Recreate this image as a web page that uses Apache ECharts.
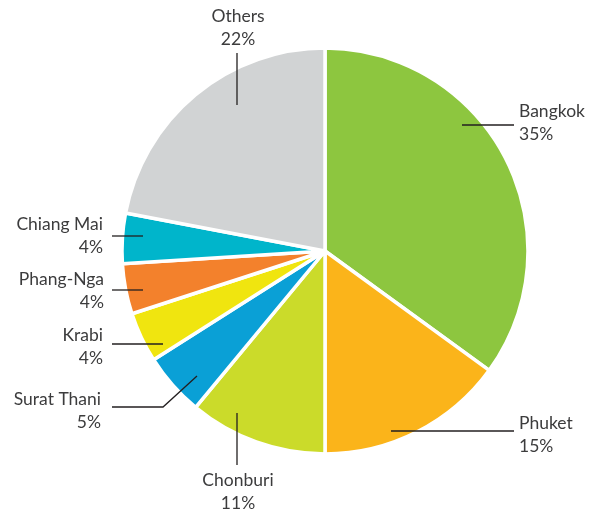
<!DOCTYPE html>
<html>
<head>
<meta charset="utf-8">
<script src="https://cdn.jsdelivr.net/npm/echarts@6/dist/echarts.min.js"></script>
<style>
  html, body { margin: 0; padding: 0; background: #ffffff; }
  #chart { width: 596px; height: 514px; }
</style>
</head>
<body>
<div id="chart"></div>
<script>
// Share of visitors by province (%), clockwise from 12 o'clock
const provinces = ['Bangkok', 'Phuket', 'Chonburi', 'Surat Thani', 'Krabi', 'Phang-Nga', 'Chiang Mai', 'Others'];
const shares = [35, 15, 11, 5, 4, 4, 4, 22];
const sliceColors = ['#8dc63f', '#fbb41a', '#cbdb2a', '#0aa0d6', '#f0e50f', '#f3812c', '#00b5cb', '#d1d3d4'];

// Where each label sits and how its leader line runs (pixel layout of the annotations)
const labelPlacement = {
  'Bangkok':     { x: 519, y: 123, align: 'left',   line: [[462, 125], [488, 125], [514, 125]] },
  'Phuket':      { x: 519, y: 435, align: 'left',   line: [[391, 431], [450, 431], [514, 431]] },
  'Chonburi':    { x: 238, y: 492, align: 'center', line: [[237, 413], [237, 440], [237, 465]] },
  'Surat Thani': { x: 101, y: 411, align: 'right',  line: [[197, 376], [163, 407], [112, 407]] },
  'Krabi':       { x: 103, y: 347, align: 'right',  line: [[163, 344], [140, 344], [112, 344]] },
  'Phang-Nga':   { x: 104, y: 291, align: 'right',  line: [[143, 290], [128, 290], [112, 290]] },
  'Chiang Mai':  { x: 103, y: 236, align: 'right',  line: [[143, 236], [128, 236], [112, 236]] },
  'Others':      { x: 238, y: 28,  align: 'center', line: [[237, 105], [237, 80], [237, 53]] }
};

const pieCenter = [325, 251];
const pieRadius = [0, 203];

const chart = echarts.init(document.getElementById('chart'), null, { renderer: 'canvas' });

chart.setOption({
  backgroundColor: '#ffffff',
  animation: false,
  series: [
    // Coloured slices
    {
      type: 'pie',
      z: 2,
      center: pieCenter,
      radius: pieRadius,
      startAngle: 90,
      clockwise: true,
      silent: true,
      data: provinces.map((name, i) => ({
        name: name,
        value: shares[i],
        itemStyle: { color: sliceColors[i] }
      })),
      itemStyle: { borderColor: '#ffffff', borderWidth: 3.5 },
      label: { show: false },
      labelLine: { show: false },
      emphasis: { disabled: true }
    },
    // Same slices, transparent, carrying the labels so leader lines sit on top
    {
      type: 'pie',
      z: 3,
      center: pieCenter,
      radius: pieRadius,
      startAngle: 90,
      clockwise: true,
      silent: true,
      avoidLabelOverlap: false,
      data: provinces.map((name, i) => ({ name: name, value: shares[i] })),
      itemStyle: { color: 'rgba(0,0,0,0)', borderWidth: 0 },
      label: {
        show: true,
        position: 'outside',
        formatter: '{b}\n{c}%',
        fontFamily: 'Lato',
        fontSize: 17.5,
        lineHeight: 23,
        color: '#3c3c3d'
      },
      labelLine: {
        show: true,
        length: 10,
        length2: 10,
        smooth: false,
        lineStyle: { color: '#231f20', width: 1.3 }
      },
      emphasis: { disabled: true },
      labelLayout: function (params) {
        const p = labelPlacement[provinces[params.dataIndex]];
        return {
          x: p.x,
          y: p.y,
          align: p.align,
          verticalAlign: 'middle',
          labelLinePoints: p.line
        };
      }
    }
  ]
});
</script>
</body>
</html>
